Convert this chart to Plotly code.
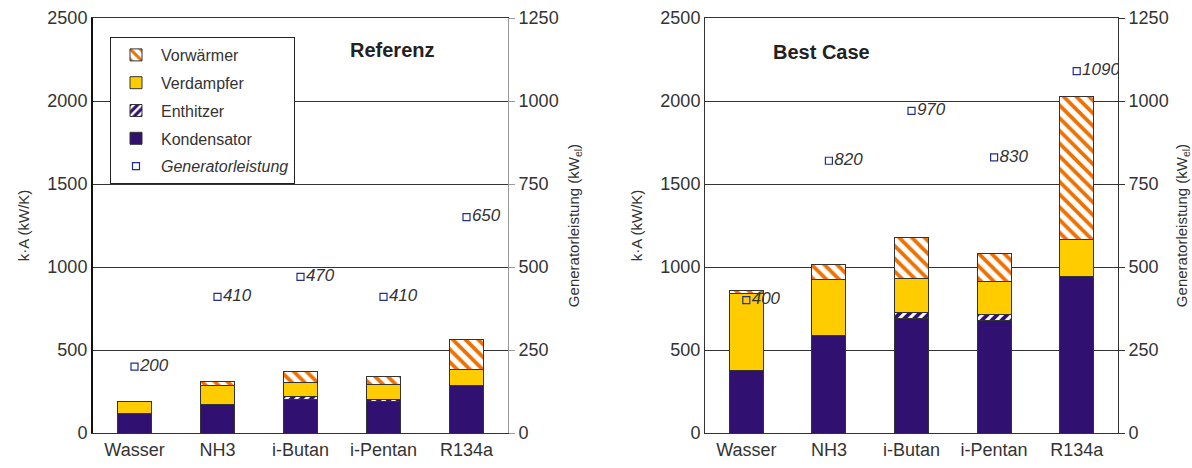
import plotly.graph_objects as go

categories = ["Wasser", "NH3", "i-Butan", "i-Pentan", "R134a"]

# Referenz: k*A je Wärmeübertrager (kW/K) und Generatorleistung (kWel)
ref_kondensator = [115, 173, 200, 190, 285]
ref_enthitzer = [0, 0, 18, 10, 0]
ref_verdampfer = [75, 112, 85, 92, 95]
ref_vorwaermer = [0, 28, 69, 46, 185]
ref_generator = [200, 410, 470, 410, 650]

# Best Case
best_kondensator = [375, 585, 690, 680, 940]
best_enthitzer = [0, 0, 35, 35, 0]
best_verdampfer = [465, 340, 205, 200, 225]
best_vorwaermer = [20, 90, 250, 165, 865]
best_generator = [400, 820, 970, 830, 1090]

W, H = 1192, 468
M_T, M_B = 18, 35
PLOT_H = H - M_T - M_B

PURPLE = "#301070"
YELLOW = "#FFCC00"
ORANGE = "#EE7000"
NAVY = "#22308A"
EDGE = "#333333"
FONT = "Liberation Sans, Arial, sans-serif"
TXT = "#333333"

fig = go.Figure()


def add_panel(xa, ya, ya2, kond, enth, verd, vorw, gen, legend):
    common = dict(x=categories, xaxis=xa, yaxis=ya, width=0.41)
    edge = dict(color=EDGE, width=1)
    fig.add_trace(go.Bar(y=kond, name="Kondensator", legendrank=4,
                         legendgroup="k", showlegend=legend,
                         marker=dict(color=PURPLE, line=edge), **common))
    fig.add_trace(go.Bar(y=enth, name="Enthitzer", legendrank=3,
                         legendgroup="e", showlegend=legend,
                         marker=dict(color=PURPLE, line=edge,
                                     pattern=dict(shape="/", fgcolor="white",
                                                  bgcolor=PURPLE, size=7,
                                                  solidity=0.45, fgopacity=1,
                                                  fillmode="replace")),
                         **common))
    fig.add_trace(go.Bar(y=verd, name="Verdampfer", legendrank=2,
                         legendgroup="v", showlegend=legend,
                         marker=dict(color=YELLOW, line=edge), **common))
    fig.add_trace(go.Bar(y=vorw, name="Vorwärmer", legendrank=1,
                         legendgroup="w", showlegend=legend,
                         marker=dict(color="white", line=edge,
                                     pattern=dict(shape="\\", fgcolor=ORANGE,
                                                  bgcolor="white", size=9,
                                                  solidity=0.42, fgopacity=1,
                                                  fillmode="replace")),
                         **common))
    fig.add_trace(go.Scatter(x=categories, y=gen, xaxis=xa, yaxis=ya2,
                             name="<i>Generatorleistung</i>", legendrank=5,
                             legendgroup="g", showlegend=legend,
                             mode="markers+text", text=[str(g) for g in gen],
                             textposition="middle right",
                             textfont=dict(family=FONT, size=17, color=TXT,
                                           style="italic"),
                             marker=dict(symbol="square-open", size=7,
                                         color=NAVY, line=dict(width=1.2))))


add_panel("x", "y", "y2", ref_kondensator, ref_enthitzer, ref_verdampfer,
          ref_vorwaermer, ref_generator, True)
add_panel("x2", "y3", "y4", best_kondensator, best_enthitzer, best_verdampfer,
          best_vorwaermer, best_generator, False)

tickfont = dict(family=FONT, size=18, color=TXT)
titlefont = dict(family=FONT, size=15, color=TXT)

left_dom = [93 / W, 508 / W]
right_dom = [705 / W, 1118 / W]

xcommon = dict(showline=True, linecolor=EDGE, linewidth=1, mirror=True,
               showgrid=False, tickfont=tickfont, ticks="",
               range=[-0.5, 4.5])
ycommon = dict(range=[0, 2500], dtick=500, showgrid=True, gridcolor=EDGE,
               gridwidth=1, showline=True, tickfont=tickfont, ticks="",
               zeroline=False,
               title=dict(text="k·A (kW/K)", font=titlefont, standoff=14))
y2common = dict(range=[0, 1250], dtick=250, showgrid=False, side="right",
                showline=True, tickfont=tickfont, ticks="outside", ticklen=6,
                zeroline=False,
                title=dict(text="Generatorleistung (kW<sub>el</sub>)",
                           font=titlefont, standoff=10))

fig.update_layout(
    width=W, height=H,
    margin=dict(l=0, r=0, t=M_T, b=M_B),
    paper_bgcolor="white", plot_bgcolor="white",
    barmode="stack", bargap=0.59,
    font=dict(family=FONT, color=TXT),
    xaxis=dict(domain=left_dom, anchor="y", **xcommon),
    xaxis2=dict(domain=right_dom, anchor="y3", **xcommon),
    yaxis=dict(anchor="x", linecolor="#111111", linewidth=2, **ycommon),
    yaxis2=dict(anchor="x", overlaying="y", linecolor="#999999", linewidth=1,
                tickcolor="#999999", **y2common),
    yaxis3=dict(anchor="x2", linecolor=EDGE, linewidth=1, **ycommon),
    yaxis4=dict(anchor="x2", overlaying="y3", linecolor=EDGE, linewidth=1,
                tickcolor=EDGE, **y2common),
    showlegend=True,
    legend=dict(x=110 / W, y=(H - M_B - 37) / PLOT_H, xanchor="left",
                yanchor="top", bgcolor="white", bordercolor="#222222",
                borderwidth=1, traceorder="grouped", tracegroupgap=4,
                font=dict(family=FONT, size=16, color=TXT),
                itemwidth=40),
    annotations=[
        dict(text="<b>Referenz</b>", x=392 / W, y=(H - M_B - 50) / PLOT_H,
             xref="paper", yref="paper", xanchor="center", yanchor="middle",
             showarrow=False,
             font=dict(family=FONT, size=20, color="#222222")),
        dict(text="<b>Best Case</b>", x=821 / W, y=(H - M_B - 52) / PLOT_H,
             xref="paper", yref="paper", xanchor="center", yanchor="middle",
             showarrow=False,
             font=dict(family=FONT, size=20, color="#222222")),
    ],
)

fig.write_html("out.html")
